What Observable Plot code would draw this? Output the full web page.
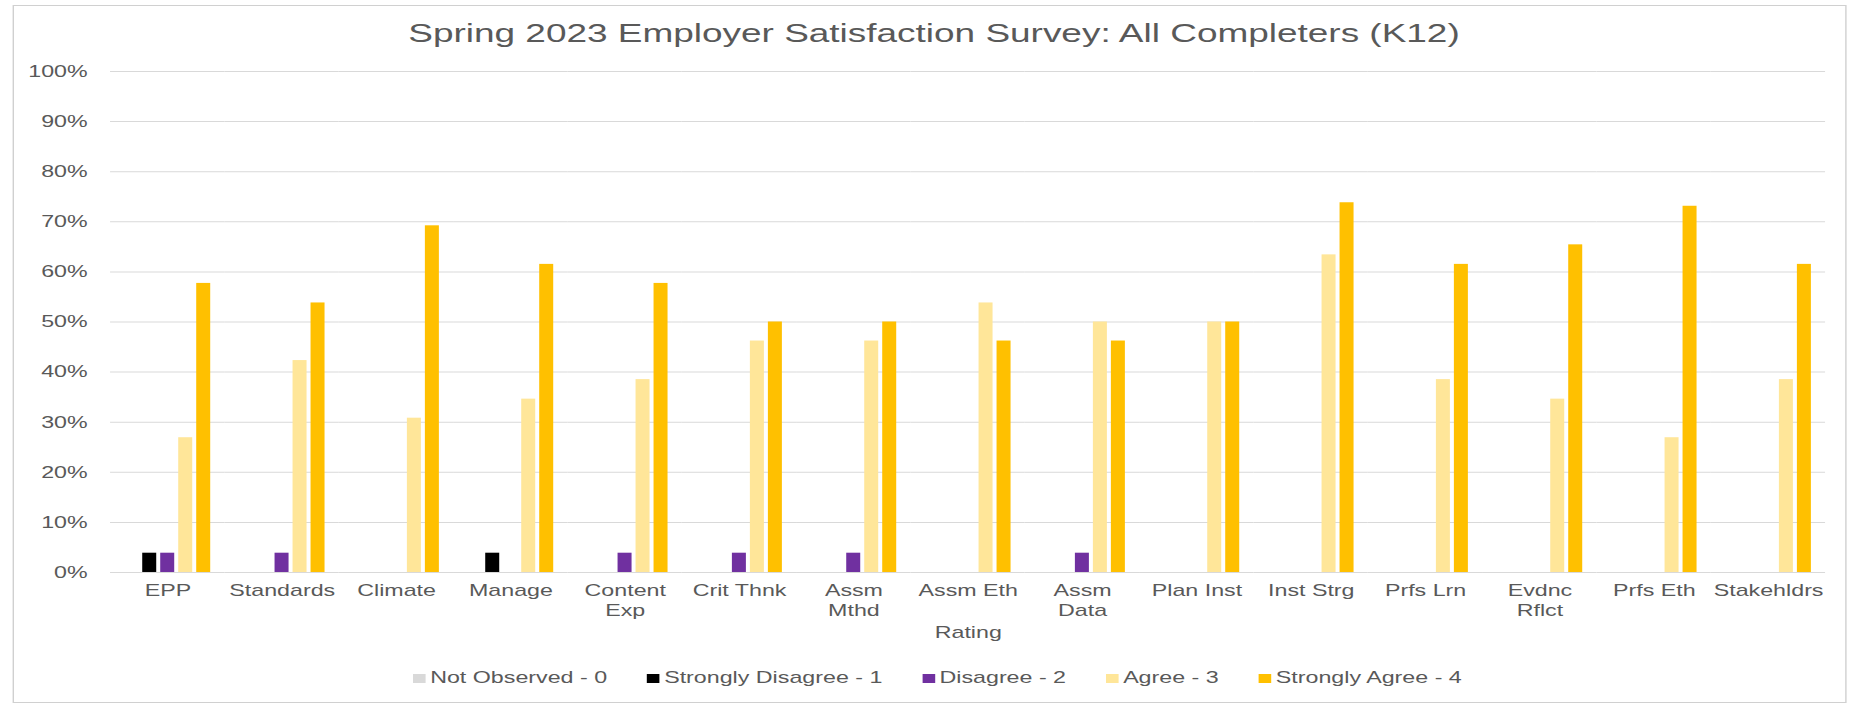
<!DOCTYPE html>
<html>
<head>
<meta charset="utf-8">
<script src="https://cdn.jsdelivr.net/npm/d3@7"></script>
<script src="https://cdn.jsdelivr.net/npm/@observablehq/plot@0.6"></script>
<style>
  html, body { margin: 0; padding: 0; background: #fff; }
  body { width: 1858px; height: 705px; overflow: hidden; position: relative; font-family: "Liberation Sans", Arial, sans-serif; }
  #stage { position: absolute; left: 0; top: 0; width: 1327.14px; height: 705px; transform: scaleX(1.4); transform-origin: 0 0; }
  #frame { position: absolute; left: 8.6px; top: 5px; width: 1310.7px; height: 698px; border: 1px solid #d0d0d0; box-sizing: border-box; }
  #title { position: absolute; left: 0; width: 1334.3px; top: 20px; text-align: center; font-size: 26.4px; line-height: 1; color: #595959; white-space: nowrap; }
  #chart { position: absolute; left: 0; top: 0; }
  #legend { position: absolute; left: 0; width: 1339.2px; top: 670px; display: flex; justify-content: center; font-size: 16.6px; line-height: 1; color: #595959; white-space: nowrap; }
  .item { display: flex; align-items: center; margin-right: 28.6px; }
  .item:last-child { margin-right: 0; }
  .sw { width: 8.8px; height: 9.3px; margin-right: 3.4px; flex: none; }
</style>
</head>
<body>
<div id="stage">
  <div id="frame"></div>
  <div id="chart"></div>
  <div id="title"></div>
  <div id="legend"></div>
</div>
<script>
const titleText = "Spring 2023 Employer Satisfaction Survey: All Completers (K12)";
const axisLabel = "Rating";
const categories = ["EPP", "Standards", "Climate", "Manage", "Content\nExp", "Crit Thnk", "Assm\nMthd", "Assm Eth", "Assm\nData", "Plan Inst", "Inst Strg", "Prfs Lrn", "Evdnc\nRflct", "Prfs Eth", "Stakehldrs"];
const seriesNames = ["Not Observed - 0", "Strongly Disagree - 1", "Disagree - 2", "Agree - 3", "Strongly Agree - 4"];
const seriesColors = ["#d9d9d9", "#000000", "#7030a0", "#ffe699", "#ffc000"];
const notObserved      = [0, 0, 0, 0, 0, 0, 0, 0, 0, 0, 0, 0, 0, 0, 0];
const stronglyDisagree = [3.85, 0, 0, 3.85, 0, 0, 0, 0, 0, 0, 0, 0, 0, 0, 0];
const disagree         = [3.85, 3.85, 0, 0, 3.85, 3.85, 3.85, 0, 3.85, 0, 0, 0, 0, 0, 0];
const agree            = [26.9, 42.3, 30.8, 34.6, 38.5, 46.2, 46.2, 53.8, 50, 50, 63.4, 38.5, 34.6, 26.9, 38.5];
const stronglyAgree    = [57.7, 53.8, 69.2, 61.5, 57.7, 50, 50, 46.2, 46.2, 50, 73.8, 61.5, 65.4, 73.1, 61.5];
const yTicks = [0, 10, 20, 30, 40, 50, 60, 70, 80, 90, 100];

const seriesValues = [notObserved, stronglyDisagree, disagree, agree, stronglyAgree];
const rows = [];
categories.forEach((c, i) => seriesValues.forEach((arr, j) => rows.push({category: c, series: seriesNames[j], value: arr[i]})));

const W = 1327.14, ML = 78.6, MR = 23.5;
const padIn = 0.248, padOut = padIn / 2;
const step = (W - ML - MR) / (categories.length - padIn + 2 * padOut);
const outer = padOut * step;      // space between the frame edge and the first facet
const gridExtend = -outer;        // make per-facet grid lines join into continuous lines

const chart = Plot.plot({
  width: W,
  height: 650,
  marginLeft: ML,
  marginRight: MR,
  marginTop: 71,
  marginBottom: 78,
  style: {fontFamily: "'Liberation Sans', Arial, sans-serif", fontSize: "16.6px", color: "#595959", background: "transparent", overflow: "visible"},
  fx: {domain: categories, paddingInner: padIn, paddingOuter: padOut, round: false, label: axisLabel},
  x: {domain: seriesNames, paddingInner: 0.222, paddingOuter: 0, round: false, axis: null},
  y: {domain: [0, 100], axis: null},
  color: {domain: seriesNames, range: seriesColors},
  marks: [
    Plot.gridY(yTicks, {stroke: "#d9d9d9", strokeOpacity: 1, strokeWidth: 1, insetLeft: gridExtend, insetRight: gridExtend}),
    Plot.axisY(yTicks, {tickSize: 0, tickPadding: 16.5 + outer, tickFormat: d => d + "%", label: null, fontSize: 16.6}),
    Plot.barY(rows, {fx: "category", x: "series", y: "value", fill: "series"}),
    Plot.axisFx({anchor: "bottom", tickSize: 0, tickPadding: 9.3, lineHeight: 1.2, fontSize: 16.6, label: axisLabel, labelAnchor: "center", labelOffset: 66})
  ]
});
document.getElementById("chart").appendChild(chart);
document.getElementById("title").textContent = titleText;

const legend = document.getElementById("legend");
seriesNames.forEach((name, j) => {
  const item = document.createElement("div");
  item.className = "item";
  const sw = document.createElement("span");
  sw.className = "sw";
  sw.style.background = seriesColors[j];
  const label = document.createElement("span");
  label.textContent = name;
  item.appendChild(sw);
  item.appendChild(label);
  legend.appendChild(item);
});
</script>
</body>
</html>
